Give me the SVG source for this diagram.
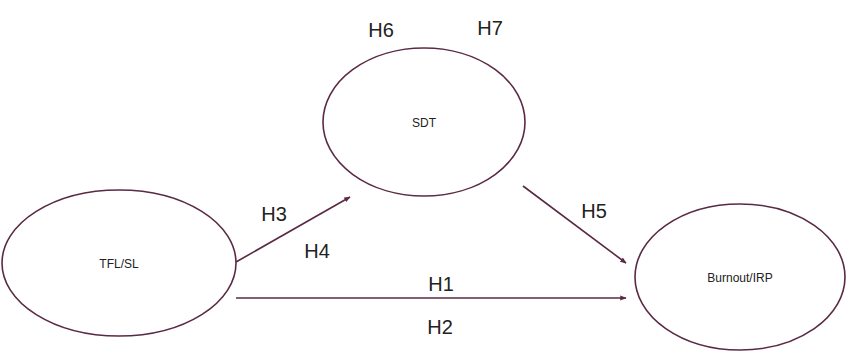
<svg xmlns="http://www.w3.org/2000/svg" width="848" height="356" viewBox="0 0 848 356">
<defs>
<marker id="ah" viewBox="0 0 10 10" refX="9" refY="5" markerWidth="4" markerHeight="4" orient="auto" markerUnits="strokeWidth">
<path d="M0,1 L10,5 L0,9 z" fill="#5a2a45"/>
</marker>
<style>
.node ellipse{fill:#fff;stroke:#5a2a45;stroke-width:1.6}
.node text{font-family:"Liberation Sans","DejaVu Sans",sans-serif;font-size:12px;fill:#222;text-anchor:middle}
.lbl{font-family:"Liberation Sans","DejaVu Sans",sans-serif;font-size:20px;fill:#222;text-anchor:middle}
.conn line{stroke:#5a2a45;stroke-width:1.6;marker-end:url(#ah)}
</style>
</defs>
<rect width="848" height="356" fill="#fff"/>
<g id="node-sdt" class="node">
<ellipse cx="424" cy="122" rx="101" ry="74"/>
<text x="424" y="127">SDT</text>
</g>
<g id="node-tfl" class="node">
<ellipse cx="119" cy="263" rx="117" ry="73"/>
<text x="119" y="268">TFL/SL</text>
</g>
<g id="node-burnout" class="node">
<ellipse cx="740" cy="277" rx="105" ry="73"/>
<text x="740" y="282">Burnout/IRP</text>
</g>
<g id="connectors" class="conn">
<line x1="236" y1="262" x2="350" y2="197"/>
<line x1="236" y1="298" x2="626" y2="298"/>
<line x1="523" y1="186" x2="626" y2="263"/>
</g>
<g id="labels">
<text class="lbl" x="381" y="37">H6</text>
<text class="lbl" x="490" y="35">H7</text>
<text class="lbl" x="274" y="221">H3</text>
<text class="lbl" x="317" y="258">H4</text>
<text class="lbl" x="594" y="218">H5</text>
<text class="lbl" x="441" y="291">H1</text>
<text class="lbl" x="440" y="334">H2</text>
</g>
</svg>
